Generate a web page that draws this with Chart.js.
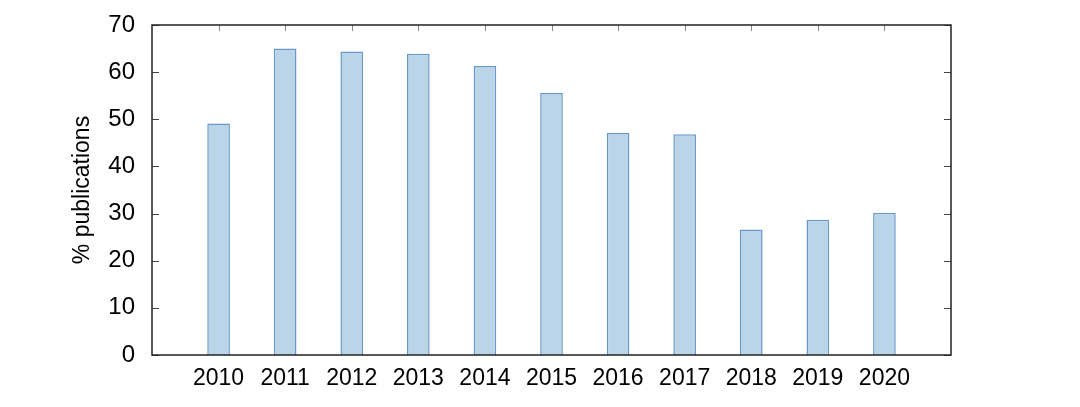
<!DOCTYPE html>
<html>
<head>
<meta charset="utf-8">
<script src="https://cdn.jsdelivr.net/npm/chart.js@4/dist/chart.umd.min.js"></script>
<style>
  html,body{margin:0;padding:0;background:#fff;}
</style>
</head>
<body>
<canvas id="c" width="1080" height="407"></canvas>
<script>
// data
const years = [2010, 2011, 2012, 2013, 2014, 2015, 2016, 2017, 2018, 2019, 2020];
const pctPublications = [49.1, 65.0, 64.4, 63.9, 61.3, 55.6, 47.1, 46.8, 26.6, 28.7, 30.2];
const yTicks = [0, 10, 20, 30, 40, 50, 60, 70];
const yLabel = '% publications';

(function(){
  const FONT = '"Liberation Sans", Arial, Helvetica, sans-serif';

  // gnuplot-like frame with inward ticks
  const framePlugin = {
    id: 'frame',
    beforeDatasetsDraw(chart){
      const {ctx, chartArea:a, scales:{x, y}} = chart;
      ctx.save();
      ctx.lineWidth = 1;
      ctx.strokeStyle = '#888';
      years.forEach(v => {
        const px = Math.round(x.getPixelForValue(v)) + 0.5;
        ctx.beginPath(); ctx.moveTo(px, a.top); ctx.lineTo(px, a.top + 6); ctx.stroke();
        ctx.beginPath(); ctx.moveTo(px, a.bottom); ctx.lineTo(px, a.bottom - 6); ctx.stroke();
      });
      ctx.strokeStyle = '#444';
      yTicks.forEach(v => {
        const py = Math.round(y.getPixelForValue(v)) + 0.5;
        ctx.beginPath(); ctx.moveTo(a.left, py); ctx.lineTo(a.left + 7, py); ctx.stroke();
        ctx.beginPath(); ctx.moveTo(a.right, py); ctx.lineTo(a.right - 7, py); ctx.stroke();
      });
      ctx.restore();
    },
    afterDatasetsDraw(chart){
      const {ctx, chartArea:a} = chart;
      ctx.save();
      ctx.strokeStyle = '#222';
      ctx.lineWidth = 1.5;
      ctx.strokeRect(a.left, a.top, a.right - a.left, a.bottom - a.top);
      ctx.restore();
    }
  };

  new Chart(document.getElementById('c'), {
    type: 'bar',
    data: {
      datasets: [{
        data: years.map((yr, i) => ({x: yr, y: pctPublications[i]})),
        backgroundColor: 'rgb(186,212,232)',
        borderColor: 'rgb(104,152,202)',
        borderWidth: 1.5,
        barPercentage: 0.34,
        categoryPercentage: 1
      }]
    },
    options: {
      responsive: false,
      animation: false,
      devicePixelRatio: 1,
      layout: { padding: { left: 60, right: 129, top: 25, bottom: 0 } },
      plugins: { legend: {display:false}, tooltip: {enabled:false} },
      scales: {
        x: {
          type: 'linear',
          offset: false,
          min: 2009, max: 2021,
          grid: { display:false, drawTicks:false, offset:false },
          border: { display:false },
          afterFit: s => { s.height = 52; s.paddingLeft = 0; s.paddingRight = 0; },
          afterBuildTicks: s => { s.ticks = years.map(v => ({value: v})); },
          ticks: {
            autoSkip: false, maxRotation: 0, padding: 10,
            color: '#000', font: { family: FONT, size: 23 },
            callback: v => String(v)
          }
        },
        y: {
          min: 0, max: 70,
          grid: { display:false, drawTicks:false },
          border: { display:false },
          afterFit: s => { s.width = 92; s.paddingTop = 0; s.paddingBottom = 0; },
          afterBuildTicks: s => { s.ticks = yTicks.map(v => ({value: v})); },
          ticks: { autoSkip: false, padding: 17, color: '#000', font: { family: FONT, size: 24 } },
          title: {
            display: true, text: yLabel, color: '#000',
            font: { family: FONT, size: 23 },
            padding: { top: 9, bottom: 0 }
          }
        }
      }
    },
    plugins: [framePlugin]
  });
})();
</script>
</body>
</html>
